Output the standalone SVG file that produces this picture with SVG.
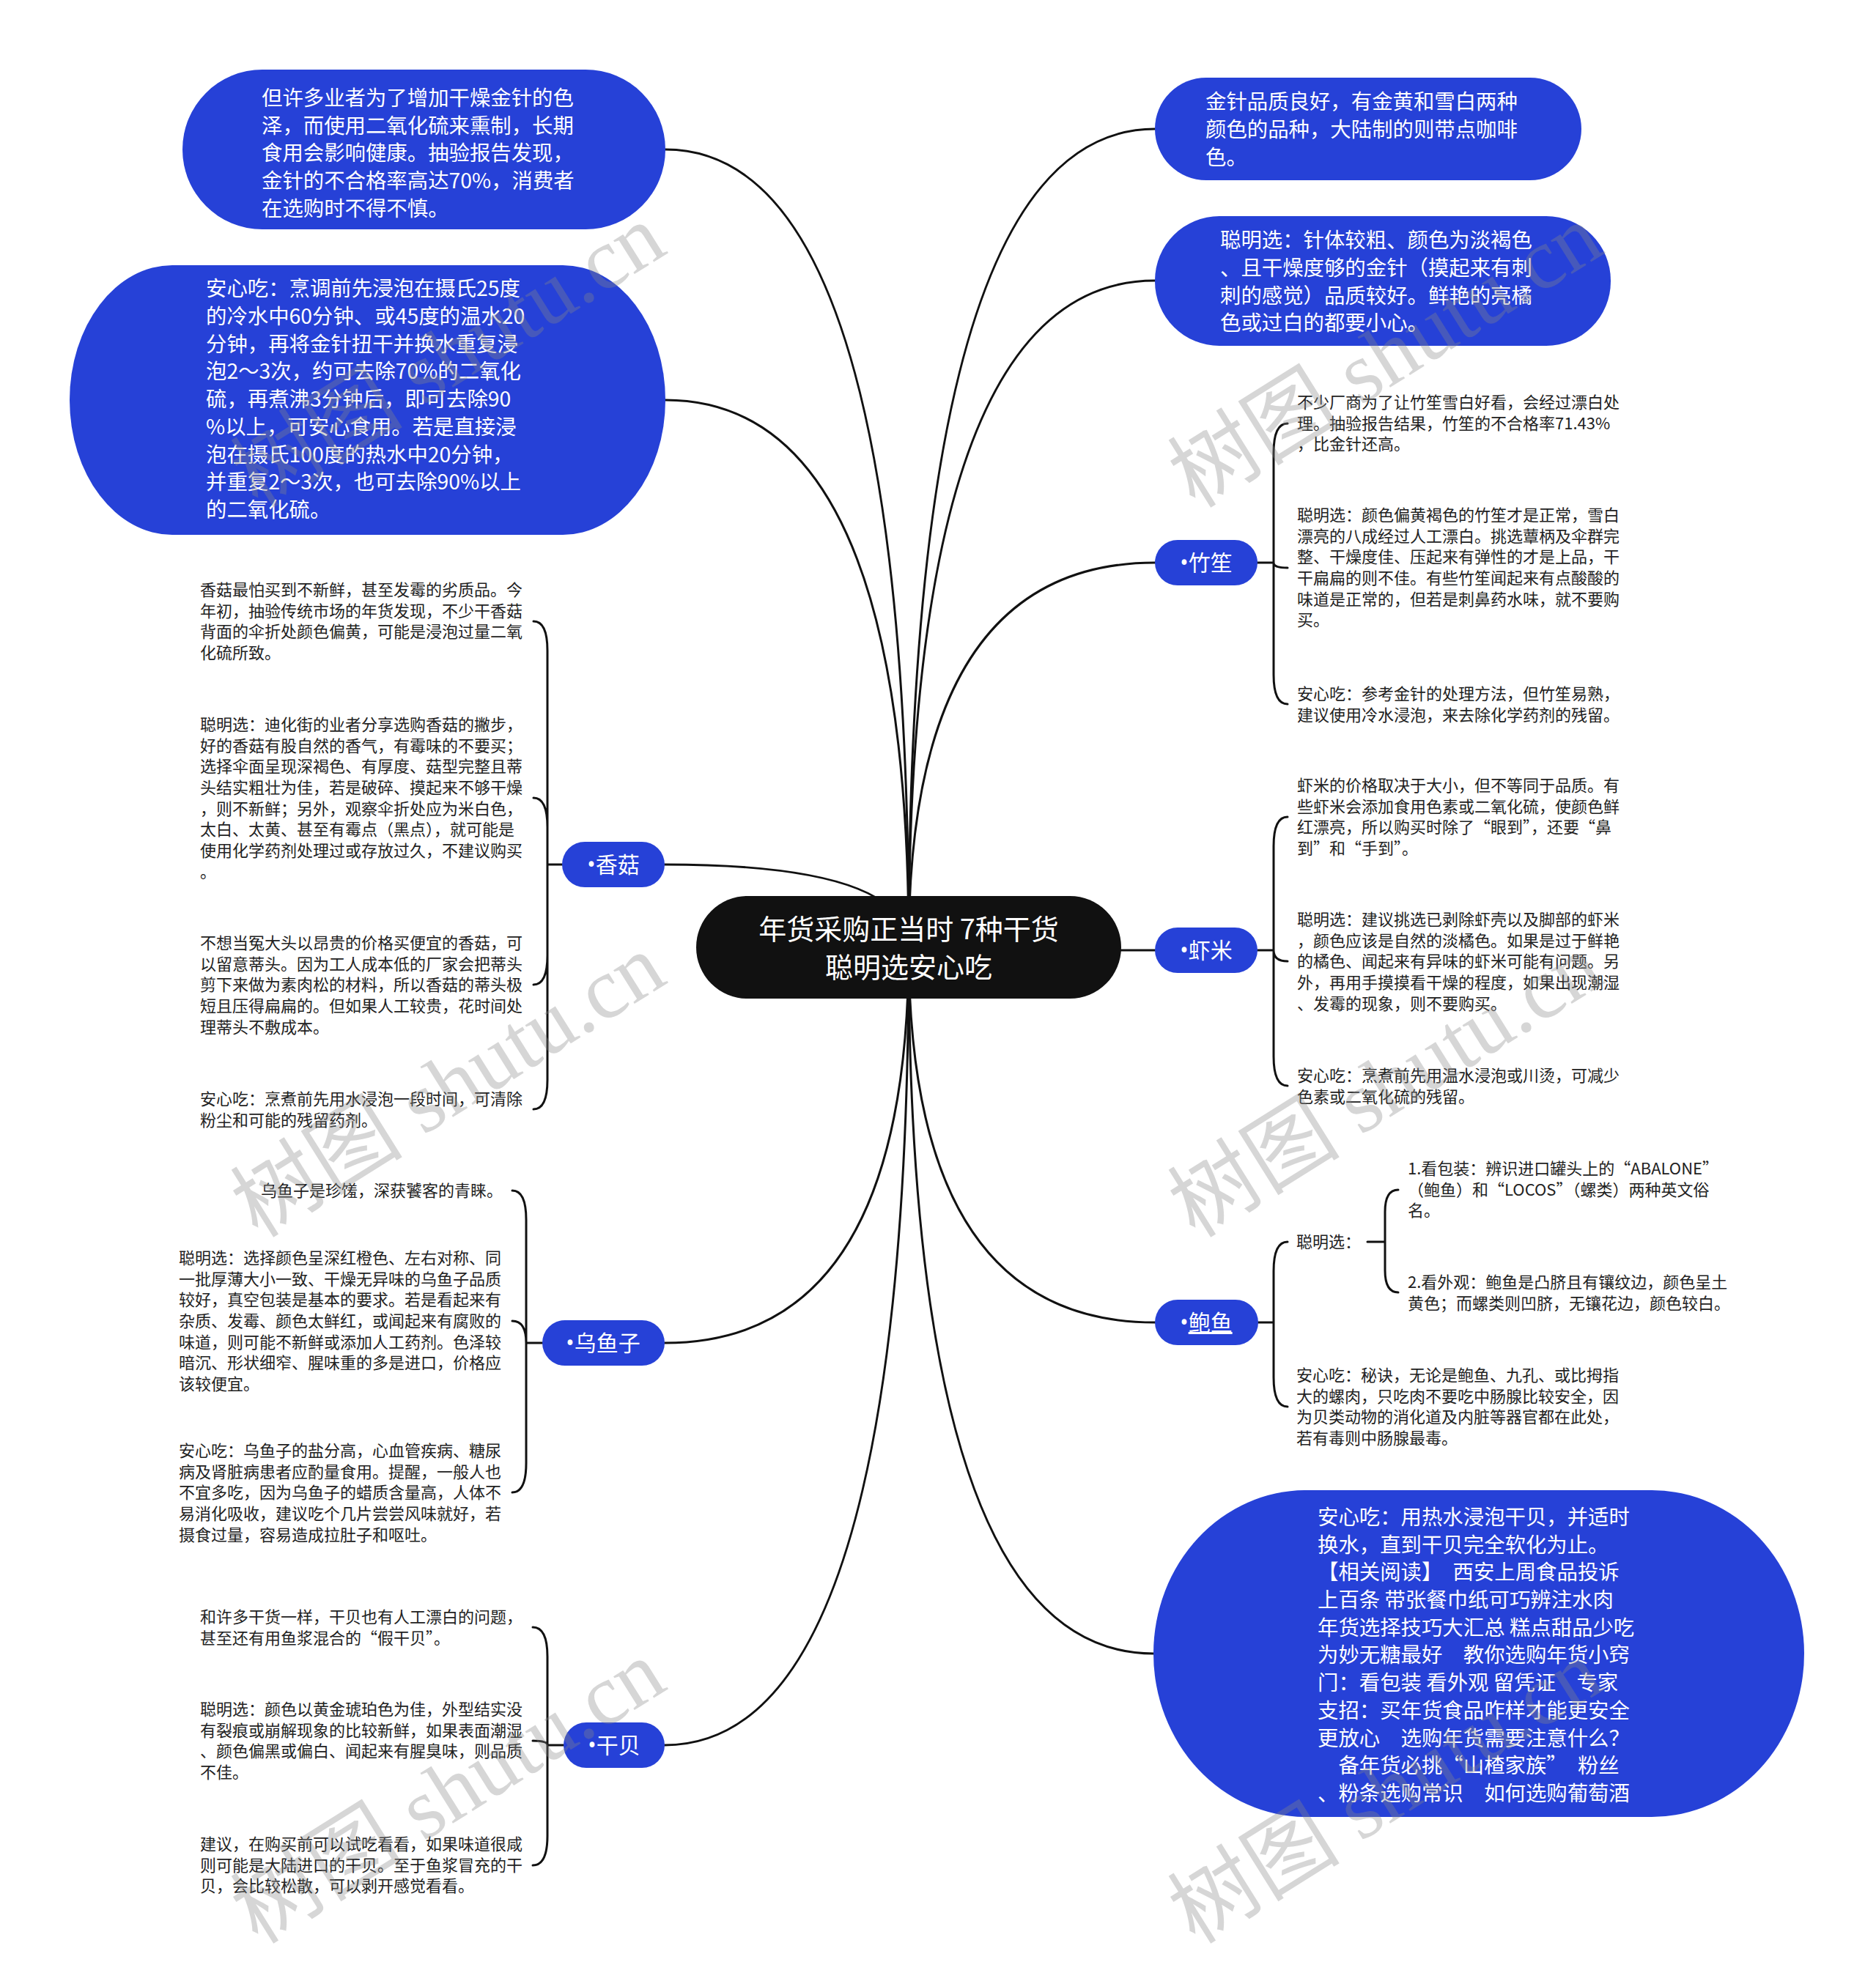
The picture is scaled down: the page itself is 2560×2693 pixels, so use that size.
<svg xmlns="http://www.w3.org/2000/svg" width="2560" height="2693" viewBox="0 0 2560 2693">
<style>
.c{fill:none;stroke:#111;stroke-width:3;stroke-linecap:round}
.b{fill:none;stroke:#111;stroke-width:3;stroke-linecap:round;stroke-linejoin:round}
.blue{fill:#2641D7}
.t{font-family:"Noto Sans CJK SC","Noto Sans",sans-serif;font-size:22px;fill:#222}
.w{font-family:"Noto Sans CJK SC",sans-serif;font-size:28.4px;fill:#fff}
.lbl{font-family:"Noto Sans","Noto Sans CJK SC",sans-serif;font-size:30px;fill:#fff;text-anchor:middle}
.ctr{font-family:"Noto Sans CJK SC",sans-serif;font-size:38px;fill:#fff;text-anchor:middle}
.wm{font-family:"Liberation Serif","Noto Sans CJK SC",serif;font-size:118px;fill:#888;opacity:.34}
</style>
<rect width="2560" height="2693" fill="#fff"/>
<g id="connectors">
<path class="c" d="M1240 1292 Q1240 176 1576 176"/>
<path class="c" d="M1240 1292 Q1240 383 1576 383"/>
<path class="c" d="M1240 1292 Q1240 768 1576 768"/>
<path class="c" d="M1240 1292 Q1240 1297 1576 1297"/>
<path class="c" d="M1240 1292 Q1240 1805 1576 1805"/>
<path class="c" d="M1240 1292 Q1240 2257 1574 2257"/>
<path class="c" d="M1240 1292 Q1240 204 908 204"/>
<path class="c" d="M1240 1292 Q1240 546 908 546"/>
<path class="c" d="M1240 1292 Q1240 1180 907 1180"/>
<path class="c" d="M1240 1292 Q1240 1833 907 1833"/>
<path class="c" d="M1240 1292 Q1240 2382 907 2382"/>
<path class="b" d="M1716 768 H1738 M1738 768 V618 Q1738 578 1757 578 M1738 768 Q1738 775 1757 775 M1738 768 V921 Q1738 961 1757 961"/>
<path class="b" d="M1716 1297 H1738 M1738 1297 V1155 Q1738 1115 1757 1115 M1738 1297 Q1738 1312 1757 1312 M1738 1297 V1442 Q1738 1482 1757 1482"/>
<path class="b" d="M1717 1805 H1738 M1738 1805 V1735 Q1738 1695 1757 1695 M1738 1805 V1880 Q1738 1920 1757 1920"/>
<path class="b" d="M1866 1695 H1890 M1890 1695 V1654 Q1890 1624 1908 1624 M1890 1695 V1734 Q1890 1764 1908 1764"/>
<path class="b" d="M767 1180 H747 M747 1180 V888 Q747 848 728 848 M747 1180 V1129 Q747 1089 728 1089 M747 1180 V1304 Q747 1344 728 1344 M747 1180 V1474 Q747 1514 728 1514"/>
<path class="b" d="M740 1833 H718 M718 1833 V1665 Q718 1625 699 1625 M718 1833 Q718 1803 699 1803 M718 1833 V1997 Q718 2037 699 2037"/>
<path class="b" d="M769 2382 H747 M747 2382 V2261 Q747 2221 727 2221 M747 2382 Q747 2376 727 2376 M747 2382 V2506 Q747 2546 727 2546"/>
</g>

<g id="center">
<rect x="950" y="1223" width="580" height="140" rx="70" fill="#111"/>
<text class="ctr"><tspan x="1240" y="1282">年货采购正当时 7种干货</tspan><tspan x="1240" y="1334">聪明选安心吃</tspan></text>
</g>

<g id="jinzhen-note">
<rect class="blue" x="249" y="95" width="659" height="218" rx="109"/>
<text class="w"><tspan x="357" y="144">但许多业者为了增加干燥金针的色</tspan><tspan x="357" y="182">泽，而使用二氧化硫来熏制，长期</tspan><tspan x="357" y="219">食用会影响健康。抽验报告发现，</tspan><tspan x="357" y="257">金针的不合格率高达70%，消费者</tspan><tspan x="357" y="295">在选购时不得不慎。</tspan></text>
</g>

<g id="jinzhen-safe">
<rect class="blue" x="95" y="362" width="813" height="368" rx="140" ry="184"/>
<text class="w"><tspan x="281" y="404">安心吃：烹调前先浸泡在摄氏25度</tspan><tspan x="281" y="442">的冷水中60分钟、或45度的温水20</tspan><tspan x="281" y="480">分钟，再将金针扭干并换水重复浸</tspan><tspan x="281" y="517">泡2～3次，约可去除70%的二氧化</tspan><tspan x="281" y="555">硫，再煮沸3分钟后，即可去除90</tspan><tspan x="281" y="593">%以上，可安心食用。若是直接浸</tspan><tspan x="281" y="631">泡在摄氏100度的热水中20分钟，</tspan><tspan x="281" y="668">并重复2～3次，也可去除90%以上</tspan><tspan x="281" y="706">的二氧化硫。</tspan></text>
</g>

<g id="jinzhen-quality">
<rect class="blue" x="1576" y="106" width="582" height="140" rx="70"/>
<text class="w"><tspan x="1645" y="149">金针品质良好，有金黄和雪白两种</tspan><tspan x="1645" y="187">颜色的品种，大陆制的则带点咖啡</tspan><tspan x="1645" y="225">色。</tspan></text>
</g>

<g id="jinzhen-choose">
<rect class="blue" x="1576" y="295" width="622" height="177" rx="88"/>
<text class="w"><tspan x="1665" y="338">聪明选：针体较粗、颜色为淡褐色</tspan><tspan x="1665" y="376">、且干燥度够的金针（摸起来有刺</tspan><tspan x="1665" y="414">刺的感觉）品质较好。鲜艳的亮橘</tspan><tspan x="1665" y="451">色或过白的都要小心。</tspan></text>
</g>

<g id="zhusheng">
<rect class="blue" x="1576" y="737" width="140" height="62" rx="31"/>
<text class="lbl" x="1646" y="779">•竹笙</text>
<text class="t"><tspan x="1770" y="557">不少厂商为了让竹笙雪白好看，会经过漂白处</tspan><tspan x="1770" y="586">理。抽验报告结果，竹笙的不合格率71.43%</tspan><tspan x="1770" y="614">，比金针还高。</tspan></text>
<text class="t"><tspan x="1770" y="711">聪明选：颜色偏黄褐色的竹笙才是正常，雪白</tspan><tspan x="1770" y="740">漂亮的八成经过人工漂白。挑选蕈柄及伞群完</tspan><tspan x="1770" y="768">整、干燥度佳、压起来有弹性的才是上品，干</tspan><tspan x="1770" y="797">干扁扁的则不佳。有些竹笙闻起来有点酸酸的</tspan><tspan x="1770" y="826">味道是正常的，但若是刺鼻药水味，就不要购</tspan><tspan x="1770" y="854">买。</tspan></text>
<text class="t"><tspan x="1770" y="955">安心吃：参考金针的处理方法，但竹笙易熟，</tspan><tspan x="1770" y="984">建议使用冷水浸泡，来去除化学药剂的残留。</tspan></text>
</g>

<g id="xiami">
<rect class="blue" x="1576" y="1266" width="140" height="62" rx="31"/>
<text class="lbl" x="1646" y="1308">•虾米</text>
<text class="t"><tspan x="1770" y="1080">虾米的价格取决于大小，但不等同于品质。有</tspan><tspan x="1770" y="1109">些虾米会添加食用色素或二氧化硫，使颜色鲜</tspan><tspan x="1770" y="1137">红漂亮，所以购买时除了“眼到”，还要“鼻</tspan><tspan x="1770" y="1166">到”和“手到”。</tspan></text>
<text class="t"><tspan x="1770" y="1263">聪明选：建议挑选已剥除虾壳以及脚部的虾米</tspan><tspan x="1770" y="1292">，颜色应该是自然的淡橘色。如果是过于鲜艳</tspan><tspan x="1770" y="1320">的橘色、闻起来有异味的虾米可能有问题。另</tspan><tspan x="1770" y="1349">外，再用手摸摸看干燥的程度，如果出现潮湿</tspan><tspan x="1770" y="1378">、发霉的现象，则不要购买。</tspan></text>
<text class="t"><tspan x="1770" y="1476">安心吃：烹煮前先用温水浸泡或川烫，可减少</tspan><tspan x="1770" y="1505">色素或二氧化硫的残留。</tspan></text>
</g>

<g id="baoyu">
<rect class="blue" x="1576" y="1774" width="141" height="62" rx="31"/>
<text class="lbl" x="1646" y="1816">•<tspan text-decoration="underline">鲍鱼</tspan></text>
<text class="t" x="1769" y="1703">聪明选：</text>
<text class="t"><tspan x="1921" y="1603">1.看包装：辨识进口罐头上的“ABALONE”</tspan><tspan x="1921" y="1632">（鲍鱼）和“LOCOS”（螺类）两种英文俗</tspan><tspan x="1921" y="1660">名。</tspan></text>
<text class="t"><tspan x="1921" y="1758">2.看外观：鲍鱼是凸脐且有镶纹边，颜色呈土</tspan><tspan x="1921" y="1787">黄色；而螺类则凹脐，无镶花边，颜色较白。</tspan></text>
<text class="t"><tspan x="1769" y="1885">安心吃：秘诀，无论是鲍鱼、九孔、或比拇指</tspan><tspan x="1769" y="1914">大的螺肉，只吃肉不要吃中肠腺比较安全，因</tspan><tspan x="1769" y="1942">为贝类动物的消化道及内脏等器官都在此处，</tspan><tspan x="1769" y="1971">若有毒则中肠腺最毒。</tspan></text>
</g>

<g id="ganbei-safe">
<rect class="blue" x="1574" y="2034" width="888" height="446" rx="208" ry="223"/>
<text class="w"><tspan x="1798" y="2081">安心吃：用热水浸泡干贝，并适时</tspan><tspan x="1798" y="2119">换水，直到干贝完全软化为止。</tspan><tspan x="1798" y="2156">【相关阅读】　西安上周食品投诉</tspan><tspan x="1798" y="2194">上百条 带张餐巾纸可巧辨注水肉</tspan><tspan x="1798" y="2232">年货选择技巧大汇总 糕点甜品少吃</tspan><tspan x="1798" y="2269">为妙无糖最好　教你选购年货小窍</tspan><tspan x="1798" y="2307">门：看包装 看外观 留凭证　专家</tspan><tspan x="1798" y="2345">支招：买年货食品咋样才能更安全</tspan><tspan x="1798" y="2383">更放心　选购年货需要注意什么？</tspan><tspan x="1798" y="2420">　备年货必挑“山楂家族”　粉丝</tspan><tspan x="1798" y="2458">、粉条选购常识　如何选购葡萄酒</tspan></text>
</g>

<g id="xianggu">
<rect class="blue" x="767" y="1149" width="140" height="62" rx="31"/>
<text class="lbl" x="837" y="1191">•香菇</text>
<text class="t"><tspan x="273" y="813">香菇最怕买到不新鲜，甚至发霉的劣质品。今</tspan><tspan x="273" y="842">年初，抽验传统市场的年货发现，不少干香菇</tspan><tspan x="273" y="870">背面的伞折处颜色偏黄，可能是浸泡过量二氧</tspan><tspan x="273" y="899">化硫所致。</tspan></text>
<text class="t"><tspan x="273" y="997">聪明选：迪化街的业者分享选购香菇的撇步，</tspan><tspan x="273" y="1026">好的香菇有股自然的香气，有霉味的不要买；</tspan><tspan x="273" y="1054">选择伞面呈现深褐色、有厚度、菇型完整且蒂</tspan><tspan x="273" y="1083">头结实粗壮为佳，若是破碎、摸起来不够干燥</tspan><tspan x="273" y="1112">，则不新鲜；另外，观察伞折处应为米白色，</tspan><tspan x="273" y="1140">太白、太黄、甚至有霉点（黑点），就可能是</tspan><tspan x="273" y="1169">使用化学药剂处理过或存放过久，不建议购买</tspan><tspan x="273" y="1198">。</tspan></text>
<text class="t"><tspan x="273" y="1295">不想当冤大头以昂贵的价格买便宜的香菇，可</tspan><tspan x="273" y="1324">以留意蒂头。因为工人成本低的厂家会把蒂头</tspan><tspan x="273" y="1352">剪下来做为素肉松的材料，所以香菇的蒂头极</tspan><tspan x="273" y="1381">短且压得扁扁的。但如果人工较贵，花时间处</tspan><tspan x="273" y="1410">理蒂头不敷成本。</tspan></text>
<text class="t"><tspan x="273" y="1508">安心吃：烹煮前先用水浸泡一段时间，可清除</tspan><tspan x="273" y="1537">粉尘和可能的残留药剂。</tspan></text>
</g>

<g id="wuyuzi">
<rect class="blue" x="740" y="1802" width="167" height="62" rx="31"/>
<text class="lbl" x="823" y="1844">•乌鱼子</text>
<text class="t" x="686" y="1633" text-anchor="end">乌鱼子是珍馐，深获饕客的青睐。</text>
<text class="t"><tspan x="244" y="1725">聪明选：选择颜色呈深红橙色、左右对称、同</tspan><tspan x="244" y="1754">一批厚薄大小一致、干燥无异味的乌鱼子品质</tspan><tspan x="244" y="1782">较好，真空包装是基本的要求。若是看起来有</tspan><tspan x="244" y="1811">杂质、发霉、颜色太鲜红，或闻起来有腐败的</tspan><tspan x="244" y="1840">味道，则可能不新鲜或添加人工药剂。色泽较</tspan><tspan x="244" y="1868">暗沉、形状细窄、腥味重的多是进口，价格应</tspan><tspan x="244" y="1897">该较便宜。</tspan></text>
<text class="t"><tspan x="244" y="1988">安心吃：乌鱼子的盐分高，心血管疾病、糖尿</tspan><tspan x="244" y="2017">病及肾脏病患者应酌量食用。提醒，一般人也</tspan><tspan x="244" y="2045">不宜多吃，因为乌鱼子的蜡质含量高，人体不</tspan><tspan x="244" y="2074">易消化吸收，建议吃个几片尝尝风味就好，若</tspan><tspan x="244" y="2103">摄食过量，容易造成拉肚子和呕吐。</tspan></text>
</g>

<g id="ganbei">
<rect class="blue" x="769" y="2351" width="138" height="62" rx="31"/>
<text class="lbl" x="838" y="2393">•干贝</text>
<text class="t"><tspan x="273" y="2215">和许多干货一样，干贝也有人工漂白的问题，</tspan><tspan x="273" y="2244">甚至还有用鱼浆混合的“假干贝”。</tspan></text>
<text class="t"><tspan x="273" y="2341">聪明选：颜色以黄金琥珀色为佳，外型结实没</tspan><tspan x="273" y="2370">有裂痕或崩解现象的比较新鲜，如果表面潮湿</tspan><tspan x="273" y="2398">、颜色偏黑或偏白、闻起来有腥臭味，则品质</tspan><tspan x="273" y="2427">不佳。</tspan></text>
<text class="t"><tspan x="273" y="2525">建议，在购买前可以试吃看看，如果味道很咸</tspan><tspan x="273" y="2554">则可能是大陆进口的干贝。至于鱼浆冒充的干</tspan><tspan x="273" y="2582">贝，会比较松散，可以剥开感觉看看。</tspan></text>
</g>

<g id="watermarks">
<text class="wm" x="352" y="695" transform="rotate(-32 352 695)">树图 shutu.cn</text>
<text class="wm" x="352" y="1691" transform="rotate(-32 352 1691)">树图 shutu.cn</text>
<text class="wm" x="352" y="2655" transform="rotate(-32 352 2655)">树图 shutu.cn</text>
<text class="wm" x="1631" y="695" transform="rotate(-32 1631 695)">树图 shutu.cn</text>
<text class="wm" x="1631" y="1691" transform="rotate(-32 1631 1691)">树图 shutu.cn</text>
<text class="wm" x="1631" y="2655" transform="rotate(-32 1631 2655)">树图 shutu.cn</text>
</g>
</svg>
